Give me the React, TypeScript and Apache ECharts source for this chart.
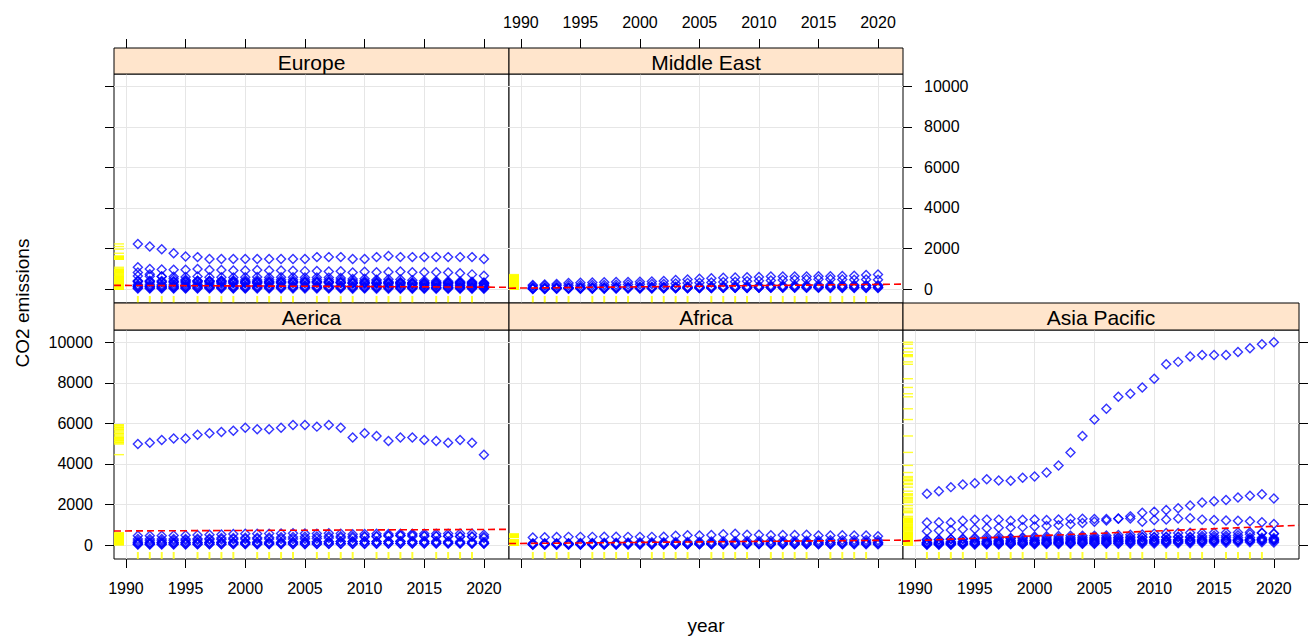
import React, { useEffect, useRef } from 'react';
import * as echarts from 'echarts';

// ---------------- DATA ----------------
const YEARS = [1991, 1992, 1993, 1994, 1995, 1996, 1997, 1998, 1999, 2000, 2001, 2002, 2003, 2004, 2005, 2006, 2007, 2008, 2009, 2010, 2011, 2012, 2013, 2014, 2015, 2016, 2017, 2018, 2019, 2020];
const X_TICKS = [1990, 1995, 2000, 2005, 2010, 2015, 2020];
const Y_TICKS = [0, 2000, 4000, 6000, 8000, 10000];
const X_RUG_YEARS = [1991, 1992, 1993, 1994, 1996, 1997, 1998, 1999, 2001, 2002, 2003, 2004, 2006, 2007, 2008, 2009, 2011, 2012, 2013, 2014, 2016, 2017, 2018, 2019];
const X_MIN = 1989.0;
const X_MAX = 2022.1;
const Y_MIN = -680;
const Y_MAX = 10600;

// Europe
const russia = [2230, 2100, 1970, 1770, 1610, 1580, 1490, 1490, 1490, 1490, 1490, 1490, 1490, 1490, 1490, 1580, 1580, 1580, 1490, 1490, 1580, 1640, 1580, 1580, 1580, 1580, 1580, 1580, 1580, 1490];
const germany = [1080, 990, 970, 960, 960, 990, 950, 940, 920, 920, 940, 920, 920, 910, 890, 900, 870, 880, 820, 860, 830, 850, 870, 830, 830, 840, 820, 790, 730, 660];
const ukraine = [820, 740, 620, 520, 460, 420, 400, 380, 370, 360, 360, 360, 360, 350, 340, 350, 350, 340, 290, 300, 310, 300, 290, 250, 210, 210, 200, 200, 190, 180];
const unitedKingdom = [650, 640, 620, 610, 600, 620, 590, 590, 580, 590, 600, 580, 590, 590, 580, 580, 570, 550, 500, 510, 470, 490, 480, 440, 420, 400, 390, 380, 370, 330];
const italy = [420, 420, 410, 400, 430, 420, 420, 430, 440, 450, 450, 460, 470, 470, 470, 460, 460, 450, 410, 410, 400, 380, 350, 330, 340, 340, 330, 330, 320, 290];
const france = [390, 380, 360, 360, 360, 370, 370, 390, 390, 380, 380, 380, 380, 380, 380, 370, 360, 360, 340, 350, 330, 330, 330, 300, 300, 310, 310, 300, 300, 270];
const poland = [370, 360, 360, 350, 350, 360, 350, 330, 320, 300, 300, 290, 300, 300, 300, 310, 310, 310, 300, 320, 310, 310, 300, 290, 290, 300, 310, 310, 290, 280];
const spain = [230, 240, 230, 240, 250, 240, 260, 270, 290, 300, 300, 320, 320, 340, 350, 350, 350, 320, 290, 270, 270, 260, 240, 240, 260, 250, 260, 260, 240, 210];
const netherlands = [170, 170, 170, 170, 180, 180, 170, 170, 170, 170, 180, 180, 180, 180, 180, 170, 170, 170, 170, 180, 170, 170, 170, 160, 170, 170, 160, 160, 150, 140];
const romania = [140, 120, 110, 110, 110, 110, 100, 90, 80, 80, 90, 90, 90, 90, 90, 90, 90, 90, 80, 80, 80, 80, 70, 70, 70, 70, 70, 70, 70, 70];
const belgium = [120, 120, 120, 120, 120, 120, 120, 120, 120, 120, 120, 120, 120, 110, 110, 110, 100, 110, 100, 100, 100, 100, 100, 100, 100, 100, 100, 100, 100, 90];
const austria = [60, 60, 60, 60, 60, 60, 70, 70, 60, 60, 70, 70, 70, 80, 80, 70, 70, 70, 70, 70, 70, 70, 60, 60, 60, 60, 60, 60, 60, 60];
const sweden = [30, 32, 33, 34, 35, 36, 34, 34, 33, 32, 32, 33, 34, 33, 31, 31, 30, 29, 27, 29, 27, 25, 24, 23, 23, 23, 22, 22, 21, 19];

// Middle East
const iran = [210, 230, 260, 300, 320, 330, 340, 350, 360, 370, 380, 400, 450, 480, 520, 540, 560, 580, 590, 600, 620, 620, 630, 630, 640, 640, 650, 660, 700, 720];
const saudiArabia = [160, 170, 180, 190, 200, 210, 210, 220, 230, 240, 250, 260, 280, 300, 320, 330, 350, 370, 390, 410, 430, 450, 460, 480, 490, 490, 480, 470, 480, 460];
const uae = [70, 75, 80, 85, 90, 95, 100, 105, 110, 115, 115, 120, 125, 135, 140, 150, 160, 170, 170, 170, 180, 180, 190, 200, 210, 210, 210, 210, 200, 190];
const iraq = [60, 60, 70, 70, 70, 75, 75, 80, 80, 80, 85, 90, 90, 95, 100, 100, 90, 100, 110, 115, 120, 130, 140, 150, 140, 150, 160, 170, 180, 170];
const kuwait = [20, 25, 30, 40, 45, 45, 50, 50, 55, 60, 60, 60, 65, 70, 75, 75, 80, 80, 85, 85, 90, 95, 95, 95, 95, 95, 95, 95, 95, 90];
const qatar = [15, 15, 20, 20, 20, 25, 25, 30, 30, 35, 35, 40, 45, 50, 55, 60, 65, 70, 75, 80, 85, 90, 95, 100, 100, 100, 100, 100, 100, 100];
const israel = [35, 38, 42, 45, 48, 50, 52, 54, 55, 57, 58, 60, 62, 62, 62, 64, 66, 66, 64, 68, 70, 72, 66, 65, 65, 64, 63, 62, 61, 56];

// Americas ("Aerica")
const usa = [4980, 5050, 5180, 5250, 5250, 5440, 5510, 5580, 5640, 5790, 5710, 5710, 5790, 5920, 5920, 5840, 5920, 5790, 5310, 5510, 5380, 5130, 5310, 5310, 5180, 5130, 5050, 5180, 5050, 4460];
const canada = [460, 460, 470, 480, 490, 500, 510, 530, 550, 560, 560, 570, 580, 590, 580, 570, 590, 570, 540, 550, 560, 550, 560, 560, 560, 560, 570, 580, 580, 520];
const mexico = [300, 300, 310, 310, 300, 320, 330, 350, 350, 370, 370, 380, 390, 400, 420, 430, 440, 440, 430, 440, 450, 460, 460, 440, 440, 440, 440, 430, 420, 360];
const brazil = [210, 220, 220, 230, 240, 260, 270, 280, 290, 300, 310, 310, 300, 310, 320, 330, 350, 370, 350, 400, 420, 450, 480, 500, 470, 440, 440, 430, 430, 410];
const argentina = [110, 110, 120, 120, 120, 120, 130, 130, 130, 130, 120, 110, 120, 140, 150, 160, 170, 180, 170, 180, 180, 180, 190, 190, 190, 190, 180, 180, 170, 160];
const venezuela = [120, 120, 130, 130, 140, 140, 150, 150, 150, 150, 160, 160, 150, 160, 170, 170, 170, 180, 180, 180, 170, 180, 180, 170, 170, 160, 140, 120, 100, 90];
const colombia = [50, 50, 55, 55, 60, 60, 60, 60, 55, 55, 55, 55, 60, 60, 60, 65, 65, 70, 70, 75, 75, 80, 85, 90, 90, 90, 95, 95, 100, 85];
const chile = [30, 30, 35, 35, 38, 40, 45, 50, 55, 55, 52, 53, 55, 57, 60, 62, 70, 72, 68, 72, 78, 82, 85, 82, 85, 87, 86, 88, 88, 85];

// Africa
const southAfrica = [380, 390, 400, 410, 410, 410, 420, 420, 410, 410, 410, 420, 470, 490, 480, 500, 540, 560, 520, 510, 490, 500, 500, 510, 480, 480, 490, 480, 480, 440];
const egypt = [90, 95, 100, 100, 105, 110, 115, 120, 130, 140, 150, 150, 155, 160, 170, 180, 190, 200, 210, 210, 220, 220, 220, 220, 230, 240, 250, 250, 250, 240];
const algeria = [70, 75, 75, 80, 85, 85, 85, 85, 90, 90, 90, 95, 95, 100, 105, 110, 110, 115, 120, 120, 120, 130, 135, 140, 150, 150, 150, 155, 160, 150];
const nigeria = [40, 42, 44, 45, 46, 48, 50, 52, 54, 56, 60, 62, 64, 70, 75, 80, 76, 72, 70, 78, 85, 90, 100, 105, 110, 115, 118, 120, 125, 120];
const morocco = [25, 26, 27, 28, 29, 30, 31, 32, 34, 36, 38, 40, 42, 44, 46, 48, 50, 52, 52, 54, 55, 58, 58, 60, 62, 64, 66, 68, 70, 68];
const libya = [30, 30, 32, 35, 38, 40, 40, 42, 42, 44, 46, 48, 50, 52, 54, 56, 58, 58, 60, 60, 40, 50, 50, 45, 45, 45, 45, 45, 45, 40];

// Asia Pacific
const china = [2530, 2660, 2860, 2990, 3050, 3250, 3190, 3170, 3320, 3380, 3580, 3930, 4570, 5380, 6190, 6720, 7310, 7460, 7770, 8200, 8910, 9030, 9290, 9370, 9370, 9370, 9520, 9700, 9900, 10000];
const india = [690, 720, 750, 780, 800, 830, 860, 870, 890, 920, 950, 980, 1030, 1090, 1150, 1220, 1300, 1420, 1600, 1650, 1730, 1820, 1950, 2100, 2170, 2230, 2350, 2440, 2510, 2300];
const japan = [1120, 1130, 1120, 1200, 1250, 1260, 1260, 1210, 1250, 1270, 1240, 1270, 1300, 1300, 1290, 1290, 1310, 1320, 1160, 1240, 1270, 1320, 1330, 1260, 1240, 1220, 1200, 1180, 1130, 1040];
const southKorea = [250, 270, 300, 330, 370, 400, 430, 360, 390, 430, 440, 450, 460, 470, 470, 480, 500, 520, 530, 570, 600, 600, 610, 600, 610, 610, 630, 640, 610, 580];
const australia = [280, 280, 290, 290, 300, 310, 320, 330, 340, 350, 350, 360, 370, 380, 380, 390, 390, 400, 400, 390, 390, 390, 380, 370, 370, 380, 380, 380, 370, 360];
const indonesia = [150, 160, 170, 180, 200, 210, 230, 240, 250, 260, 280, 290, 300, 310, 320, 330, 350, 360, 380, 400, 420, 430, 420, 450, 460, 470, 490, 540, 600, 560];
const taiwan = [130, 140, 150, 160, 170, 180, 190, 200, 210, 220, 230, 240, 250, 260, 270, 270, 280, 270, 260, 270, 270, 270, 270, 270, 270, 280, 280, 280, 280, 270];
const thailand = [90, 100, 110, 120, 140, 150, 160, 140, 150, 160, 170, 180, 190, 210, 220, 220, 230, 230, 230, 250, 250, 260, 260, 260, 260, 260, 260, 260, 260, 250];
const pakistan = [70, 75, 80, 85, 90, 95, 100, 100, 105, 110, 110, 115, 120, 130, 140, 145, 155, 160, 160, 160, 160, 165, 170, 175, 185, 195, 210, 210, 210, 200];
const vietnam = [20, 22, 25, 28, 30, 35, 38, 42, 45, 50, 55, 60, 70, 80, 85, 90, 95, 110, 120, 140, 145, 150, 160, 170, 200, 210, 220, 260, 300, 300];
const malaysia = [60, 65, 70, 80, 90, 100, 110, 100, 110, 120, 130, 140, 150, 160, 170, 170, 180, 190, 190, 200, 200, 210, 220, 230, 220, 220, 220, 240, 250, 250];
const philippines = [40, 45, 48, 50, 55, 60, 62, 65, 65, 70, 70, 70, 70, 72, 70, 68, 70, 75, 75, 80, 85, 90, 100, 105, 115, 125, 135, 140, 145, 130];

// Fitted (lm) line endpoints read at X_MIN and X_MAX
const europeFit = [190, 95];
const middleEastFit = [50, 250];
const americaFit = [700, 780];
const africaFit = [80, 250];
const asiaFit = [200, 980];

const PANEL_NAMES = ['Europe', 'Middle East', 'Aerica', 'Africa', 'Asia Pacific'];
const PANEL_SERIES = [
  [russia, germany, ukraine, unitedKingdom, italy, france, poland, spain, netherlands, romania, belgium, austria, sweden],
  [iran, saudiArabia, uae, iraq, kuwait, qatar, israel],
  [usa, canada, mexico, brazil, argentina, venezuela, colombia, chile],
  [southAfrica, egypt, algeria, nigeria, morocco, libya],
  [china, india, japan, southKorea, australia, indonesia, taiwan, thailand, pakistan, vietnam, malaysia, philippines],
];
const PANEL_FITS = [europeFit, middleEastFit, americaFit, africaFit, asiaFit];

// ---------------- LAYOUT ----------------
const FONT = '"Liberation Sans", Arial, Helvetica, sans-serif';
const COL_X = [114, 509, 903];
const COL_W = [395, 394, 396];
const ROW_TOP = [74, 330];
const STRIP_TOP = [48, 303];
const PLOT_H = 229;
const PANEL_POS = [
  { row: 0, col: 0 },
  { row: 0, col: 1 },
  { row: 1, col: 0 },
  { row: 1, col: 1 },
  { row: 1, col: 2 },
];
const X_LABEL_SHOW = [false, true, true, false, true];
const Y_TICK_SHOW = [true, true, true, false, true];
const Y_LABEL_SHOW = [false, true, true, false, false];
const Y_POSITION = ['left', 'right', 'left', 'left', 'right'];

const BLUE = '#0000ff';
const YELLOW = '#ffff00';

function buildOption() {
  const grid: any[] = [];
  const xAxis: any[] = [];
  const yAxis: any[] = [];
  const series: any[] = [];
  const graphic: any[] = [];

  PANEL_POS.forEach((pos, i) => {
    const left = COL_X[pos.col];
    const width = COL_W[pos.col];
    const top = ROW_TOP[pos.row];
    grid.push({
      left, top, width, height: PLOT_H,
      show: true, borderColor: '#000', borderWidth: 1, backgroundColor: '#fff',
      containLabel: false,
    });
    const isTop = pos.row === 0;
    xAxis.push({
      gridIndex: i, type: 'value', min: X_MIN, max: X_MAX,
      position: isTop ? 'top' : 'bottom',
      offset: isTop ? ROW_TOP[0] - STRIP_TOP[0] : 0,
      axisLine: { show: false, onZero: false },
      axisTick: { show: true, length: 9, inside: false, customValues: X_TICKS, lineStyle: { color: '#000', width: 1 } },
      axisLabel: {
        show: X_LABEL_SHOW[i], customValues: X_TICKS, margin: isTop ? 18 : 21,
        fontSize: 16, fontFamily: FONT, color: '#000', formatter: (v: number) => String(v),
      },
      splitLine: { show: true, lineStyle: { color: '#e6e6e6', width: 1 } },
    });
    yAxis.push({
      gridIndex: i, type: 'value', min: Y_MIN, max: Y_MAX,
      position: Y_POSITION[i],
      axisLine: { show: false, onZero: false },
      axisTick: { show: Y_TICK_SHOW[i], length: 9, inside: false, customValues: Y_TICKS, lineStyle: { color: '#000', width: 1 } },
      axisLabel: {
        show: Y_LABEL_SHOW[i], customValues: Y_TICKS, margin: 21,
        fontSize: 16, fontFamily: FONT, color: '#000', formatter: (v: number) => String(v),
      },
      splitLine: { show: true, lineStyle: { color: '#e6e6e6', width: 1 } },
    });

    const allVals: number[] = [];
    PANEL_SERIES[i].forEach((vals) => {
      vals.forEach((v) => allVals.push(v));
    });

    // y rug (left edge)
    series.push({
      type: 'scatter', xAxisIndex: i, yAxisIndex: i, silent: true, clip: false, z: 2,
      symbol: 'rect', symbolSize: [10, 1.4], symbolOffset: [5, 0],
      itemStyle: { color: YELLOW },
      data: allVals.map((v) => [X_MIN, v]),
    });
    // x rug (bottom edge)
    series.push({
      type: 'scatter', xAxisIndex: i, yAxisIndex: i, silent: true, clip: false, z: 2,
      symbol: 'rect', symbolSize: [2, 7], symbolOffset: [0, -3.5],
      itemStyle: { color: YELLOW },
      data: X_RUG_YEARS.map((yr) => [yr, Y_MIN]),
    });
    // points
    PANEL_SERIES[i].forEach((vals) => {
      series.push({
        type: 'scatter', xAxisIndex: i, yAxisIndex: i, silent: true, z: 3,
        symbol: 'diamond', symbolSize: [9, 9],
        itemStyle: { color: 'rgba(0,0,0,0)', borderColor: BLUE, borderWidth: 1.4 },
        data: YEARS.map((yr, k) => [yr, vals[k]]),
      });
    });
    // regression line
    const fit = PANEL_FITS[i];
    series.push({
      type: 'line', xAxisIndex: i, yAxisIndex: i, silent: true, z: 4,
      symbol: 'none',
      lineStyle: { color: '#ff0000', width: 1.6, type: [7, 4] },
      data: [[X_MIN, fit[0]], [X_MAX, fit[1]]],
    });

    // strip
    const sTop = STRIP_TOP[pos.row];
    const sH = top - sTop;
    graphic.push({
      type: 'rect', z: 10,
      shape: { x: left, y: sTop, width, height: sH },
      style: { fill: '#ffe5cc', stroke: '#000', lineWidth: 1 },
    });
    graphic.push({
      type: 'text', z: 11,
      x: left + width / 2, y: sTop + sH / 2 + 1,
      style: {
        text: PANEL_NAMES[i], fontSize: 21, fontFamily: FONT, fill: '#000',
        align: 'center', verticalAlign: 'middle', textAlign: 'center', textVerticalAlign: 'middle',
      },
    });
  });

  graphic.push({
    type: 'text', z: 11, x: 22, y: 303, rotation: Math.PI / 2,
    style: {
      text: 'CO2 emissions', fontSize: 19, fontFamily: FONT, fill: '#000',
      align: 'center', verticalAlign: 'middle', textAlign: 'center', textVerticalAlign: 'middle',
    },
  });
  graphic.push({
    type: 'text', z: 11, x: 706, y: 625,
    style: {
      text: 'year', fontSize: 19, fontFamily: FONT, fill: '#000',
      align: 'center', verticalAlign: 'middle', textAlign: 'center', textVerticalAlign: 'middle',
    },
  });

  return {
    animation: false,
    backgroundColor: '#ffffff',
    grid, xAxis, yAxis, series, graphic,
  };
}

export default function App() {
  const ref = useRef<HTMLDivElement>(null);
  useEffect(() => {
    if (!ref.current) return;
    const chart = echarts.init(ref.current, undefined, { renderer: 'svg' });
    chart.setOption(buildOption() as any);
    return () => chart.dispose();
  }, []);
  return (
    <div
      ref={ref}
      style={{ position: 'fixed', left: 0, top: 0, width: 1309, height: 637, background: '#fff' }}
    />
  );
}
